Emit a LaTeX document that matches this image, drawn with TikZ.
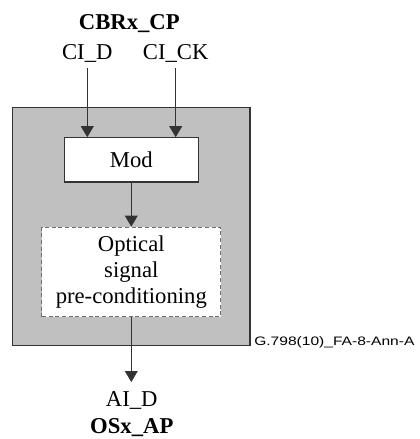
\documentclass[tikz,border=0pt]{standalone}
\usepackage{fontspec}
\setmainfont{Liberation Serif}
\newfontfamily\annfont{Liberation Sans}
\usetikzlibrary{arrows.meta,positioning}
\definecolor{unitgray}{HTML}{C0C0C0}
\definecolor{edge}{HTML}{333333}
\definecolor{dashgray}{HTML}{6E6E6E}
\tikzset{
  unit/.style={rectangle,draw=edge,line width=1pt,fill=unitgray,minimum width=178.3pt,minimum height=178.5pt},
  block/.style={rectangle,draw=edge,line width=0.9pt,fill=white,align=center,minimum width=100.5pt,minimum height=33.2pt,font=\fontsize{17}{19.5}\selectfont},
  dashblock/.style={rectangle,draw=dashgray,line width=0.8pt,dash pattern=on 3pt off 2pt,fill=white,align=center,minimum width=134.2pt,minimum height=67pt,font=\fontsize{17}{19.5}\selectfont},
  port/.style={inner sep=0pt,outer ysep=7pt,text height=11.5pt,text depth=0pt,font=\fontsize{17}{19.5}\selectfont},
  arrow/.style={-{Triangle[length=8.2pt,width=9.6pt]},line width=0.7pt,edge},
  refnote/.style={inner sep=0pt,font=\annfont\fontsize{9.2}{11}\selectfont}
}

\begin{document}
\begin{tikzpicture}[x=0.75pt,y=-0.75pt,node distance=33pt]
    \useasboundingbox (0,0) rectangle (419,439);
    \node[unit] (unit) at (131.2,226.7) {};
    \node[block] (mod) at (131.3,159.9) {Mod};
    \node[dashblock,below=of mod] (opt) {Optical\\signal\\pre-conditioning};
    \node[port,font=\fontsize{17}{19.5}\selectfont\bfseries,anchor=base] (cp) at (129.3,29.3) {CBRx\_CP};
    \node[port,anchor=base] (cid) at (87.3,59) {CI\_D};
    \node[port,anchor=base] (cick) at (175.7,59) {CI\_CK};
    \node[port,anchor=base] (aid) at (131.8,406.7) {AI\_D};
    \node[port,font=\fontsize{17}{19.5}\selectfont\bfseries,anchor=base] (ap) at (131.8,433.3) {OSx\_AP};
    \node[refnote,anchor=base west] (ref) at (254,345.5) {\scalebox{1.27}[1]{G.798(10)\_FA-8-Ann-A}};
    \draw[arrow] (cid.south) -- (cid.south |- mod.north);
    \draw[arrow] (cick.south) -- (cick.south |- mod.north);
    \draw[arrow] (mod) -- (opt);
    \draw[arrow] (opt.south) -- (opt.south |- aid.north);
  \end{tikzpicture}
\end{document}
